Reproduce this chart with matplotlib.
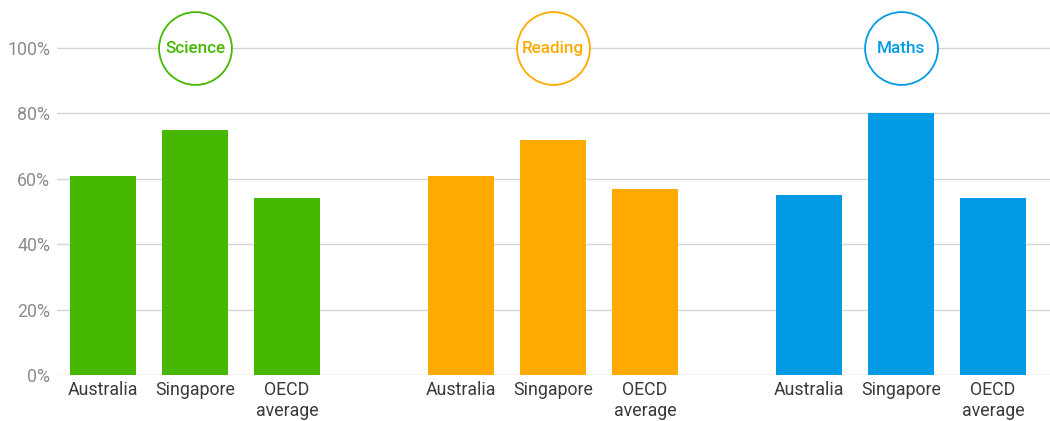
#!/usr/bin/env python

import matplotlib.pyplot as plt
import numpy as np

subjects = ["Science", "Reading", "Maths"]
countries = ["Australia", "Singapore", "OECD\naverage"]
science = [61, 75, 54]
reading = [61, 72, 57]
maths = [55, 80, 54]
colors = ["#46b800", "#ffaa00", "#039be5"]
yticks = [0, 20, 40, 60, 80, 100]


def main():
    plt.rcParams["font.family"] = ["Roboto", "DejaVu Sans"]

    fig = plt.figure(figsize=(10.5, 4.21), dpi=100)
    ax = fig.add_axes([57 / 1050, 46 / 421, 993 / 1050, 375 / 421])

    group_centers = [0, 3.89, 7.67]
    offsets = np.arange(len(countries)) - 1
    tick_pos = []
    tick_lab = []
    for g, (name, vals) in enumerate(zip(subjects, [science, reading, maths])):
        xs = group_centers[g] + offsets
        ax.bar(xs, vals, width=0.717, color=colors[g], zorder=2)
        tick_pos.extend(xs)
        tick_lab.extend(countries)
        # subject badge on the 100% line
        ax.scatter(
            [group_centers[g]], [100], s=2750, facecolor="white",
            edgecolor=colors[g], linewidth=1.3, zorder=3, clip_on=False,
        )
        ax.text(
            group_centers[g], 100, name, color=colors[g], fontsize=12.3,
            fontweight="medium", ha="center", va="center", zorder=4,
        )

    ax.set_xlim(-1.5, 9.29)
    ax.set_ylim(0, 114.7)
    ax.set_yticks(yticks)
    ax.set_yticklabels([f"{t}%" for t in yticks])
    ax.set_xticks(tick_pos)
    ax.set_xticklabels(tick_lab, fontsize=12.8, color="#3a3a3a", linespacing=1.25)
    ax.tick_params(axis="y", length=0, pad=5, labelsize=12.8, labelcolor="#8c8c8c")
    ax.tick_params(axis="x", length=0, pad=4)
    ax.grid(axis="y", color="#d6d6d6", linewidth=1, zorder=0)
    ax.set_axisbelow(True)
    for s in ax.spines.values():
        s.set_visible(False)

    fig.savefig("out.png", dpi=100)


if __name__ == "__main__":
    main()
